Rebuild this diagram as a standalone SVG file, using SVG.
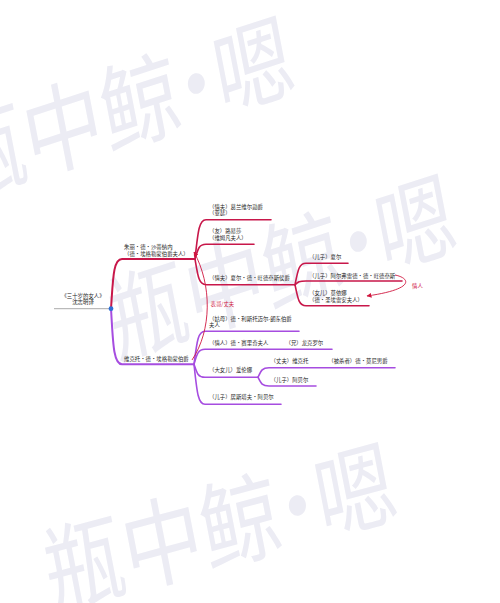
<svg xmlns="http://www.w3.org/2000/svg" width="500" height="603" viewBox="0 0 500 603">
<defs>
<style>
.wm{font-family:"Noto Sans CJK SC","Noto Sans",sans-serif;font-size:96px;fill:#ececf4}
.t{font-family:"Noto Sans CJK SC","Noto Sans",sans-serif;font-size:5.4px;fill:#262626}
.rl{font-family:"Noto Sans CJK SC","Noto Sans",sans-serif;font-size:5.4px;fill:#d0173f}
.red{fill:none;stroke:#c8174a;stroke-width:1.6;stroke-linecap:round}
.redm{fill:none;stroke:#c8174a;stroke-width:2;stroke-linecap:round}
.pur{fill:none;stroke:#a64de0;stroke-width:1.6;stroke-linecap:round}
.purm{fill:none;stroke:#a64de0;stroke-width:2;stroke-linecap:round}
.rel{fill:none;stroke:#d0173f;stroke-width:0.9}
</style>
<marker id="ah" viewBox="0 0 10 10" refX="9" refY="5" markerWidth="5" markerHeight="5" orient="auto" markerUnits="userSpaceOnUse">
<path d="M0,0 L10,5 L0,10 z" fill="#d0173f"/>
</marker>
</defs>
<rect width="500" height="603" fill="#fff"/>
<g id="watermark">
<text class="wm" transform="matrix(0.803,-0.261,0.19,0.98,-46,200.2)" x="0 96 192 262.5 333">瓶中鲸·嗯</text>
<text class="wm" transform="matrix(0.803,-0.261,0.19,0.98,116,358.2)" x="0 96 192 262.5 333">瓶中鲸·嗯</text>
<text class="wm" transform="matrix(0.815,-0.218,0.19,0.98,51.4,608.9)" x="0 96 192 262.5 333">瓶中鲸·嗯</text>
</g>
<g id="connectors">
<line x1="54" y1="308.7" x2="111" y2="308.7" stroke="#aaa" stroke-width="1"/>
<path class="redm" d="M111 308.7 C113 280 113 259 122 259 L195 259"/>
<path class="purm" d="M111 308.7 C113 340 113 364.3 122 364.3 L194 364.3"/>
<path class="red" d="M195 259 C198 231.5 199 219.7 206 219.7 L271 219.7"/>
<path class="red" d="M195 259 C198 248.7 199 244.3 206 244.3 L254 244.3"/>
<path class="red" d="M195 259 C198 277 199 284.7 206 284.7 L295 284.7"/>
<path class="red" d="M295 284.7 C298 269.7 299 263.3 306 263.3 L348 263.3"/>
<path class="red" d="M295 284.7 C298 282 299 281 306 281 L402 281"/>
<path class="red" d="M295 284.7 C298 299.4 299 305.7 306 305.7 L369 305.7"/>
<path class="pur" d="M194 364.3 C197 341.2 198 331.3 205 331.3 L299 331.3"/>
<path class="pur" d="M194 364.3 C197 353.8 198 349.3 205 349.3 L332 349.3"/>
<path class="pur" d="M194 364.3 C197 373.4 198 377.3 205 377.3 L258 377.3"/>
<path class="pur" d="M194 364.3 C197 392.3 198 404.3 205 404.3 L281 404.3"/>
<path class="pur" d="M258 377.3 C261 370.6 262 367.7 269 367.7 L395 367.7"/>
<path class="pur" d="M258 377.3 C261 383.4 262 386 269 386 L316 386"/>
<path class="rel" d="M192 360 C212 330 212 285 194 252" marker-end="url(#ah)"/>
<path class="rel" d="M395 275 C410 278 416 289 367 296" marker-end="url(#ah)"/>
<text class="rl" x="210.5" y="306">表哥/丈夫</text>
<text class="rl" x="412" y="288">情人</text>
</g>
<circle cx="111" cy="308.7" r="2.4" fill="#2f6fd6"/>
<g id="root"><text class="t" text-anchor="middle" x="83" y="297.5">《三十岁的女人》</text><text class="t" text-anchor="middle" x="83" y="304.2">沈志明译</text></g>
<g id="julie"><text class="t" x="124" y="248.6">朱丽·德·沙蒂纳内</text><text class="t" x="124" y="255.6">（德·埃格勒蒙伯爵夫人）</text></g>
<g id="grenville"><text class="t" x="209" y="208.6">（情夫）葛兰维尔勋爵</text><text class="t" x="209" y="215.3">（亚瑟）</text></g>
<g id="louisa"><text class="t" x="209" y="233.3">（友）路易莎</text><text class="t" x="209" y="240.3">（维姆凡夫人）</text></g>
<g id="charles"><text class="t" x="209" y="280">（情夫）夏尔·德·旺德奈斯侯爵</text></g>
<g id="son-charles"><text class="t" x="309" y="259">（儿子）夏尔</text></g>
<g id="alfred"><text class="t" x="309" y="277.7">（儿子）阿尔弗雷德·德·旺德奈斯</text></g>
<g id="moina"><text class="t" x="309" y="295.3">（女儿）莫依娜</text><text class="t" x="309" y="302">（德·圣埃雷安夫人）</text></g>
<g id="victor"><text class="t" x="124" y="360.7">维克托·德·埃格勒蒙伯爵</text></g>
<g id="aunt"><text class="t" x="209" y="320.5">（姑母）德·利斯托迈尔-朗东伯爵</text><text class="t" x="209" y="326.9">夫人</text></g>
<g id="serizy"><text class="t" x="209" y="345.3">（情人）德·赛里奇夫人</text></g>
<g id="ronquerolles"><text class="t" x="285.5" y="345.3">（兄）龙克罗尔</text></g>
<g id="helene"><text class="t" x="209" y="372.3">（大女儿）爱伦娜</text></g>
<g id="husband-victor"><text class="t" x="270.6" y="363.3">（丈夫）维克托</text></g>
<g id="mauny"><text class="t" x="328.3" y="363.3">（被杀者）德·莫尼男爵</text></g>
<g id="abel"><text class="t" x="270.6" y="382">（儿子）阿贝尔</text></g>
<g id="gustave"><text class="t" x="209" y="399.3">（儿子）居斯塔夫·阿贝尔</text></g>
</svg>
